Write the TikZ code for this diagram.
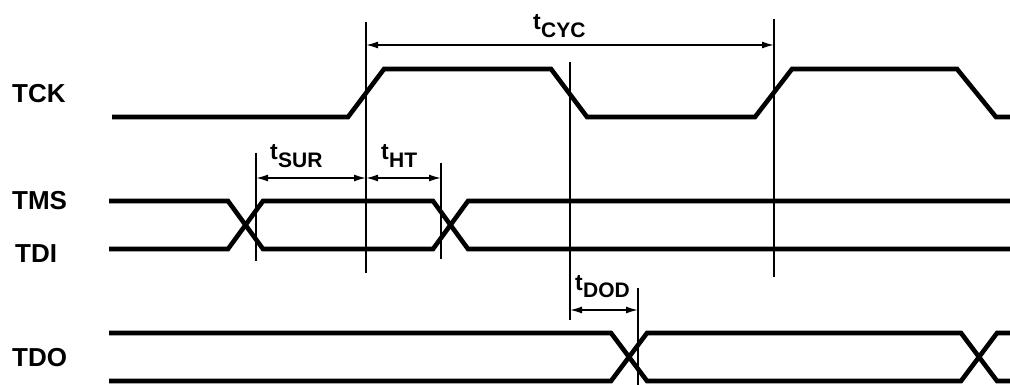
\documentclass[tikz,border=0pt]{standalone}
\usepackage{fontspec}
\setmainfont{Liberation Sans}
\usetikzlibrary{arrows.meta}
\newcommand{\tsub}[1]{{\fontsize{23}{26}\selectfont t}\kern0.3pt\raisebox{-7.5pt}{#1}}
\tikzset{
  sig/.style={line width=4.6pt, line join=miter, line cap=butt},
  guide/.style={line width=1.6pt},
  dim/.style={line width=1.6pt, {Latex[length=12pt,width=7pt]}-{Latex[length=12pt,width=7pt]}},
  siglabel/.style={anchor=base west, inner sep=0pt, font=\fontsize{26}{30}\selectfont\bfseries},
  tlabel/.style={anchor=base west, inner sep=0pt, font=\fontsize{21}{25}\selectfont\bfseries}
}
\begin{document}
\begin{tikzpicture}[x=1pt,y=-1pt]
\useasboundingbox (0,0) rectangle (1010,385);
% signal labels
\node[siglabel] (lTCK) at (12,103) {TCK};
\node[siglabel] (lTMS) at (12,210) {TMS};
\node[siglabel] (lTDI) at (15,262) {TDI};
\node[siglabel] (lTDO) at (12,366) {TDO};
% TCK
\draw[sig] (112,117) -- (348,117) -- (384,69) -- (551,69) -- (587,117) -- (755,117) -- (792,69) -- (957,69) -- (996,117) -- (1010,117);
% TMS / TDI
\draw[sig] (109,201) -- (228,201) -- (263,249) -- (433,249) -- (468,201) -- (1010,201);
\draw[sig] (109,249) -- (228,249) -- (263,201) -- (433,201) -- (468,249) -- (1010,249);
% TDO
\draw[sig] (109,333) -- (611,333) -- (647,381) -- (961,381) -- (997,333) -- (1010,333);
\draw[sig] (109,381) -- (611,381) -- (647,333) -- (961,333) -- (997,381) -- (1010,381);
% guide lines
\coordinate (v1t) at (366,22);  \coordinate (v1b) at (366,273);
\coordinate (v2t) at (774,19);  \coordinate (v2b) at (774,277);
\coordinate (v3t) at (570,62);  \coordinate (v3b) at (570,320);
\coordinate (v4t) at (256,153); \coordinate (v4b) at (256,261);
\coordinate (v5t) at (441,163); \coordinate (v5b) at (441,259);
\coordinate (v6t) at (638,288); \coordinate (v6b) at (638,385);
\draw[guide] (v1t) -- (v1b);
\draw[guide] (v2t) -- (v2b);
\draw[guide] (v3t) -- (v3b);
\draw[guide] (v4t) -- (v4b);
\draw[guide] (v5t) -- (v5b);
\draw[guide] (v6t) -- (v6b);
% dimension arrows
\coordinate (cycA) at (366,45); \coordinate (cycB) at (774,45);
\coordinate (surA) at (256,178); \coordinate (surB) at (366,178);
\coordinate (htA) at (366,178); \coordinate (htB) at (441,178);
\coordinate (dodA) at (570,310); \coordinate (dodB) at (638,310);
\draw[dim] (cycA) -- (cycB);
\draw[dim] (surA) -- (surB);
\draw[dim] (htA) -- (htB);
\draw[dim] (dodA) -- (dodB);
% timing labels
\node[tlabel] (tcyc) at (533,30) {\tsub{CYC}};
\node[tlabel] (tsur) at (270,160) {\tsub{SUR}};
\node[tlabel] (tht) at (381,160) {\tsub{HT}};
\node[tlabel] (tdod) at (575,290) {\tsub{DOD}};
\end{tikzpicture}
\end{document}
